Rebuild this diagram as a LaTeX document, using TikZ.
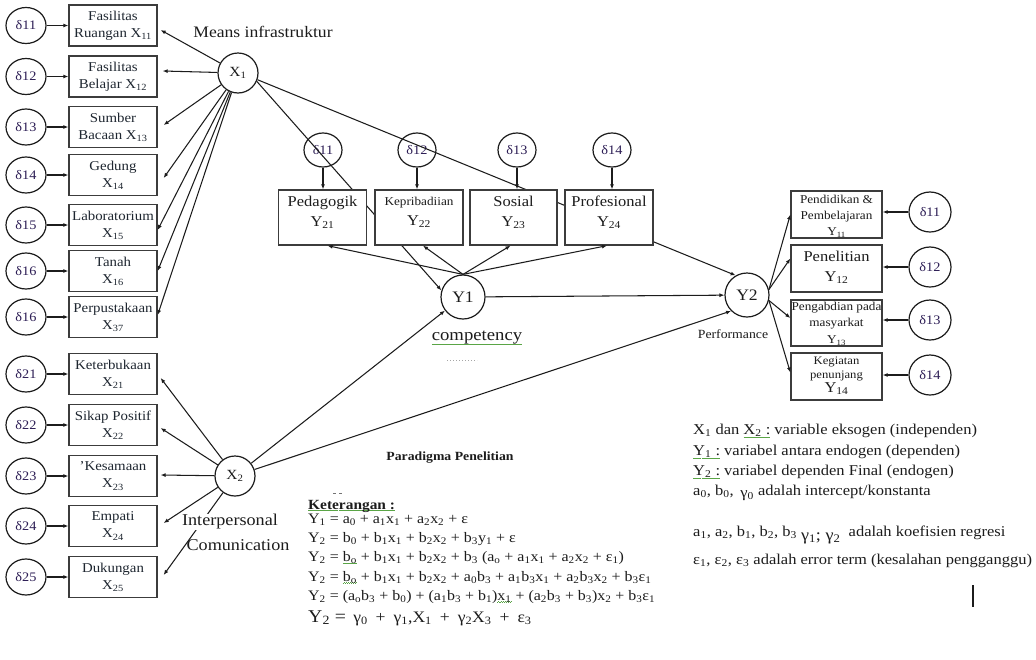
\documentclass[tikz,border=0pt]{standalone}
\usepackage{fontspec}
\setmainfont{Liberation Serif}[FakeStretch=1.1]
\usetikzlibrary{arrows.meta,shapes.geometric,calc}
\definecolor{ink}{RGB}{28,28,28}
\definecolor{boxline}{RGB}{60,60,60}
\definecolor{deltaink}{RGB}{45,30,85}
\definecolor{boxink}{RGB}{30,38,48}
\definecolor{spellgreen}{RGB}{90,165,70}
\newcommand\lo[1]{\textsubscript{#1}}
% green wavy spell-check underline; optional argument = depth below the baseline
\newsavebox\spellbox
\newcommand\spell[2][4pt]{\sbox\spellbox{#2}\rlap{\textcolor{spellgreen}{\raisebox{-#1}{\makebox[\wd\spellbox][l]{\xleaders\hbox{\rule{1pt}{0.6pt}\raisebox{0.6pt}{\rule{1pt}{0.6pt}}}\hfill}}}}\usebox\spellbox}
\tikzset{
  conn/.style={draw=ink, line width=1.05pt},
  arr/.style={conn, -{Latex[length=5pt,width=4pt]}},
  lbox/.style={draw=boxline, line width=1.3pt, fill=white, minimum width=88, minimum height=41,
    inner sep=0pt, align=center, text=boxink, font=\fontsize{13.5}{17}\selectfont},
  mbox/.style={draw=boxline, line width=1.3pt, fill=white, minimum width=88, minimum height=55, inner sep=0pt},
  rbox/.style={draw=boxline, line width=1.3pt, fill=white, minimum width=91, minimum height=47, inner sep=0pt},
  intext/.style={align=center, text=ink, inner sep=0pt},
  dl/.style={ellipse, draw=ink, line width=1.2pt, minimum width=40, minimum height=36, inner sep=0pt,
    text=deltaink, font=\fontsize{13}{15}\selectfont},
  dm/.style={dl, minimum width=38, minimum height=34},
  dr/.style={dl, minimum width=42, minimum height=40},
  lat/.style={circle, draw=ink, line width=1.2pt, minimum size=40, inner sep=0pt, fill=white,
    text=ink, font=\fontsize{14}{16}\selectfont},
  endo/.style={lat, minimum size=44, font=\fontsize{16}{18}\selectfont},
  caption/.style={text=ink, inner sep=1pt},
  eq/.style={anchor=base west, text=ink, inner sep=0pt, font=\fontsize{14.5}{18}\selectfont},
  legend/.style={anchor=base west, text=ink, inner sep=0pt, font=\fontsize{15}{18}\selectfont},
}
\begin{document}
\begin{tikzpicture}[x=1pt,y=-1pt]
\fill[white] (0,0) rectangle (1036,659);
\useasboundingbox (0,0) rectangle (1036,659);

% ---------- exogenous latent variables ----------
\node[lat] (X1) at (238,73) {X\lo{1}};
\node[lat] (X2) at (235,476) {X\lo{2}};

% ---------- indicators of X1 ----------
\node[dl] (a1) at (26,25.5) {δ11};
\node[dl] (a2) at (26,76.5) {δ12};
\node[dl] (a3) at (26,127) {δ13};
\node[dl] (a4) at (26,175) {δ14};
\node[dl] (a5) at (26,225) {δ15};
\node[dl] (a6) at (26,271) {δ16};
\node[dl] (a7) at (26,317) {δ16};
\node[lbox] (L1) at (113,25.5) {Fasilitas\\Ruangan X\lo{11}};
\node[lbox] (L2) at (113,76.5) {Fasilitas\\Belajar X\lo{12}};
\node[lbox] (L3) at (113,127) {Sumber\\Bacaan X\lo{13}};
\node[lbox] (L4) at (113,175) {Gedung\\X\lo{14}};
\node[lbox] (L5) at (113,225) {Laboratorium\\X\lo{15}};
\node[lbox] (L6) at (113,271) {Tanah\\X\lo{16}};
\node[lbox] (L7) at (113,317) {Perpustakaan\\X\lo{37}};
\foreach \d/\b in {a1/L1,a2/L2,a3/L3,a4/L4,a5/L5,a6/L6,a7/L7}
  \draw[arr] (\d) -- (\b);
\draw[arr] (X1) -- ($(L1.east)+(3,4.5)$);
\draw[arr] (X1) -- ($(L2.east)+(5,-5.5)$);
\draw[arr] (X1) -- ($(L3.east)+(6,-2)$);
\draw[arr] (X1) -- ($(L4.east)+(6,3)$);
\draw[arr] (X1) -- ($(L5.east)+(0,5)$);
\draw[arr] (X1) -- (L6.east);
\draw[arr] (X1) -- ($(L7.east)+(0,-2)$);

% ---------- indicators of X2 ----------
\node[dl] (b1) at (26,374) {δ21};
\node[dl] (b2) at (26,425) {δ22};
\node[dl] (b3) at (26,476) {δ23};
\node[dl] (b4) at (26,526) {δ24};
\node[dl] (b5) at (26,577) {δ25};
\node[lbox] (M1) at (113,374) {Keterbukaan\\X\lo{21}};
\node[lbox] (M2) at (113,425) {Sikap Positif\\X\lo{22}};
\node[lbox] (M3) at (113,476) {'Kesamaan\\X\lo{23}};
\node[lbox] (M4) at (113,526) {Empati\\X\lo{24}};
\node[lbox] (M5) at (113,577) {Dukungan\\X\lo{25}};
\foreach \d/\b in {b1/M1,b2/M2,b3/M3,b4/M4,b5/M5}
  \draw[arr] (\d) -- (\b);
\draw[arr] (X2) -- ($(M1.east)+(3,4)$);
\draw[arr] (X2) -- ($(M2.east)+(3,3)$);
\draw[arr] (X2) -- ($(M3.east)+(3,-1)$);
\draw[arr] (X2) -- ($(M4.east)+(6,-3)$);
\draw[arr] (X2) -- ($(M5.east)+(6,-2)$);

% ---------- endogenous latent variables ----------
\node[endo] (Y1) at (463,297) {Y1};
\node[endo] (Y2) at (747,295) {Y2};

% ---------- competency indicators ----------
\node[dm] (c1) at (323,150) {δ11};
\node[dm] (c2) at (417,150) {δ12};
\node[dm] (c3) at (517,150) {δ13};
\node[dm] (c4) at (612,150) {δ14};

% direct paths from X1, passing behind the indicator boxes
\draw[arr] (X1.-24) -- (Y1.163);
\draw[arr] (X1.-19) -- (Y2.120);

\node[mbox] (P)  at (322.5,217.5) {};
\node[mbox] (K)  at (419,217.5) {};
\node[mbox, minimum width=87] (S)  at (513.5,217.5) {};
\node[mbox] (Pr) at (609,217.5) {};
\node[intext, font=\fontsize{15}{20}\selectfont] at (322.5,212) {Pedagogik\\Y\lo{21}};
\node[intext, font=\fontsize{15}{20}\selectfont] at (419,212) {{\fontsize{12}{20}\selectfont Kepribadiian}\\Y\lo{22}};
\node[intext, font=\fontsize{15}{20}\selectfont] at (513.5,212) {Sosial\\Y\lo{23}};
\node[intext, font=\fontsize{15}{20}\selectfont] at (609,212) {Profesional\\Y\lo{24}};
\foreach \d/\b in {c1/P,c2/K,c3/S,c4/Pr}
  \draw[arr] (\d) -- (\d |- \b.north);
\draw[arr] (Y1.north) -- ($(P.south)+(5,0)$);
\draw[arr] (Y1.north) -- ($(K.south)+(4,0)$);
\draw[arr] (Y1.north) -- ($(S.south)+(-3,0)$);
\draw[arr] (Y1.north) -- ($(Pr.south)+(-2,0)$);

% ---------- structural paths ----------
\draw[arr] (Y1) -- (Y2);
\draw[arr] (X2) -- (Y1.217);
\draw[arr] (X2) -- (Y2.225);

% ---------- performance indicators ----------
\node[rbox] (R1) at (836.5,214.5) {};
\node[rbox] (R2) at (836.5,268.5) {};
\node[rbox, minimum height=46] (R3) at (836.5,323) {};
\node[rbox] (R4) at (836.5,376.5) {};
\node[intext, font=\fontsize{12}{16}\selectfont] at (836.5,216) {Pendidikan \&\\Pembelajaran\\Y\lo{11}};
\node[intext, font=\fontsize{15}{20}\selectfont] at (836.5,267) {Penelitian\\Y\lo{12}};
\node[intext, font=\fontsize{12}{16.5}\selectfont] at (836.5,323.5) {Pengabdian pada\\masyarkat\\Y\lo{13}};
\node[intext, font=\fontsize{11.5}{14}\selectfont] at (836.5,376) {Kegiatan\\penunjang\\{\fontsize{15}{14}\selectfont Y\lo{14}}};
\node[dr] (e1) at (930,212) {δ11};
\node[dr] (e2) at (930,267) {δ12};
\node[dr] (e3) at (930,320) {δ13};
\node[dr] (e4) at (930,375) {δ14};
\foreach \d/\b in {e1/R1,e2/R2,e3/R3,e4/R4}
  \draw[arr] (\d) -- (\d -| \b.east);
\draw[arr] (Y2.14) -- (R1.west);
\draw[arr] (Y2.14) -- ($(R2.west)+(0,-10)$);
\draw[arr] (Y2.-14) -- ($(R3.west)+(0,-5)$);
\draw[arr] (Y2.-14) -- ($(R4.west)+(0,-4)$);

% ---------- construct names ----------
\node[caption, font=\fontsize{16}{18}\selectfont] (nX1) at (263,32) {Means infrastruktur};
\node[caption, fill=white, font=\fontsize{16.5}{18}\selectfont] (nX2a) at (230,522) {Interpersonal};
\node[caption, font=\fontsize{16.5}{18}\selectfont] (nX2b) at (238,545) {Comunication};
\node[caption, font=\fontsize{17}{19}\selectfont] (nY1) at (477,338) {\spell{competency}};
\draw[black!35, line width=0.8pt, dash pattern=on 1pt off 2pt] (447,360) -- (477,360);
\node[caption, font=\fontsize{12.5}{14}\selectfont] (nY2) at (733,334) {Performance};

% ---------- title and equations ----------
\node[caption, font=\bfseries\fontsize{12.5}{14}\selectfont] (title) at (450,458) {Paradigma Penelitian};
\draw[black!55, line width=1pt] (333,493) -- (336,493) (339,493) -- (342,493);
\node[eq, font=\bfseries\fontsize{14}{16}\selectfont] (ket) at (308,509) {\spell[2pt]{Keterangan :}};
\node[eq] (q1) at (308,523) {Y\lo{1} = a\lo{0} + a\lo{1}x\lo{1} + a\lo{2}x\lo{2} + ε};
\node[eq] (q2) at (308,542) {Y\lo{2} = b\lo{0} + b\lo{1}x\lo{1} + b\lo{2}x\lo{2} + b\lo{3}y\lo{1} + ε};
\node[eq] (q3) at (308,561.5) {Y\lo{2} = \spell[2.5pt]{b\lo{o}} + b\lo{1}x\lo{1} + b\lo{2}x\lo{2} + b\lo{3} (a\lo{o} + a\lo{1}x\lo{1} + a\lo{2}x\lo{2} + ε\lo{1})};
\node[eq] (q4) at (308,581) {Y\lo{2} = \spell[2.5pt]{b\lo{o}} + b\lo{1}x\lo{1} + b\lo{2}x\lo{2} + a\lo{0}b\lo{3} + a\lo{1}b\lo{3}x\lo{1} + a\lo{2}b\lo{3}x\lo{2} + b\lo{3}ε\lo{1}};
\node[eq] (q5) at (308,600) {Y\lo{2} = (a\lo{o}b\lo{3} + b\lo{0}) + (a\lo{1}b\lo{3} + b\lo{1})\spell[2.5pt]{x\lo{1}} + (a\lo{2}b\lo{3} + b\lo{3})x\lo{2} + b\lo{3}ε\lo{1}};
\node[eq] (q6) at (308,622) {{\fontsize{18}{20}\selectfont Y\lo{2} =}\enspace{\fontsize{16}{18}\selectfont γ\lo{0}\enspace+\enspace γ\lo{1},X\lo{1}\enspace+\enspace γ\lo{2}X\lo{3}\enspace+\enspace ε\lo{3}}};

% ---------- legend ----------
\node[legend] (g1) at (693,434) {X\lo{1} dan \spell{X\lo{2} :} variable eksogen (independen)};
\node[legend] (g2) at (693,455) {\spell{Y\lo{1} :} variabel antara endogen (dependen)};
\node[legend] (g3) at (693,475) {\spell{Y\lo{2} :} variabel dependen Final (endogen)};
\node[legend] (g4) at (693,495) {a\lo{0}, b\lo{0}, \,\raisebox{-2pt}{γ\lo{0}} adalah intercept/konstanta};
\node[legend] (g5) at (693,536) {a\lo{1}, a\lo{2}, b\lo{1}, b\lo{2}, b\lo{3} \raisebox{-4pt}{\fontsize{16.5}{18}\selectfont γ\lo{1}; γ\lo{2}}\ \ adalah koefisien regresi};
\node[legend] (g6) at (693,564) {ε\lo{1}, ε\lo{2}, ε\lo{3} adalah error term (kesalahan pengganggu)};
\draw[ink, line width=1.6pt] (973,585) -- (973,607);
\end{tikzpicture}
\end{document}
